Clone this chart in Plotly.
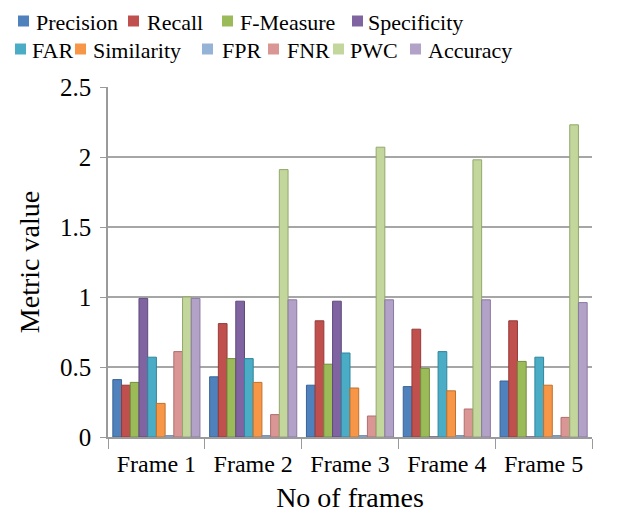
import plotly.graph_objects as go

frames = ["Frame 1", "Frame 2", "Frame 3", "Frame 4", "Frame 5"]

precision = [0.41, 0.43, 0.37, 0.36, 0.40]
recall = [0.37, 0.81, 0.83, 0.77, 0.83]
f_measure = [0.39, 0.56, 0.52, 0.49, 0.54]
specificity = [0.99, 0.97, 0.97, 0.0, 0.0]
far = [0.57, 0.56, 0.60, 0.61, 0.57]
similarity = [0.24, 0.39, 0.35, 0.33, 0.37]
fpr = [0.01, 0.01, 0.01, 0.01, 0.01]
fnr = [0.61, 0.16, 0.15, 0.20, 0.14]
pwc = [1.00, 1.91, 2.07, 1.98, 2.23]
accuracy = [0.99, 0.98, 0.98, 0.98, 0.96]

# name, values, fill, edge, key swatch left (px), key text left (px), key row centre (px)
series = [
    ("Precision", precision, "#4F81BD", "#3A6494", 18, 35, 21),
    ("Recall", recall, "#C0504D", "#953B39", 128, 146, 21),
    ("F-Measure", f_measure, "#9BBB59", "#728C3F", 222, 239, 21),
    ("Specificity", specificity, "#8064A2", "#5E4A7A", 352, 367, 21),
    ("FAR", far, "#4BACC6", "#31859C", 15, 31, 49),
    ("Similarity", similarity, "#F79646", "#C0712E", 75, 92, 49),
    ("FPR", fpr, "#95B3D7", "#6F8EB5", 202, 221, 49),
    ("FNR", fnr, "#D99694", "#B06E6C", 268, 286, 49),
    ("PWC", pwc, "#C3D69B", "#93A86B", 333, 349, 49),
    ("Accuracy", accuracy, "#B3A2C7", "#8A78A0", 410, 427, 49),
]

W, H = 618, 515
ML, MR, MT, MB = 108, 26, 87, 78
PW, PH = W - ML - MR, H - MT - MB
font_family = "Liberation Serif"


def px_x(px):
    return (px - ML) / PW


def px_y(py):
    return (H - MB - py) / PH


fig = go.Figure()
shapes, annotations = [], []
for name, vals, color, edge, sx, tx, ty in series:
    fig.add_trace(go.Bar(
        x=frames, y=vals, name=name,
        marker=dict(color=color, line=dict(color=edge, width=1)),
    ))
    # key: coloured swatch followed by the series name
    shapes.append(dict(
        type="rect", xref="paper", yref="paper",
        x0=px_x(sx), x1=px_x(sx + 11), y0=px_y(ty + 5.5), y1=px_y(ty - 5.5),
        fillcolor=color, line=dict(width=0),
    ))
    annotations.append(dict(
        text=name, xref="paper", yref="paper",
        x=px_x(tx), y=px_y(ty + 1), xanchor="left", yanchor="middle",
        showarrow=False, borderpad=0,
        font=dict(family=font_family, size=22, color="black"),
    ))

fig.update_layout(
    width=W, height=H,
    margin=dict(l=ML, r=MR, t=MT, b=MB, autoexpand=False),
    paper_bgcolor="white", plot_bgcolor="white",
    showlegend=False,
    barmode="group", bargap=0.1, bargroupgap=0.0,
    font=dict(family=font_family, size=23, color="black"),
    shapes=shapes,
    annotations=annotations,
    xaxis=dict(
        title=dict(text="No of frames", font=dict(family=font_family, size=28), standoff=12),
        showline=True, linecolor="#9a9a9a", linewidth=1.5,
        ticks="outside", tickson="boundaries", ticklen=10, tickcolor="#9a9a9a",
        ticklabelstandoff=4,
        tickfont=dict(family=font_family, size=24),
        showgrid=False,
    ),
    yaxis=dict(
        title=dict(text="Metric value", font=dict(family=font_family, size=28), standoff=12),
        range=[0, 2.5],
        tickvals=[0, 0.5, 1, 1.5, 2, 2.5],
        ticktext=["0", "0.5", "1", "1.5", "2", "2.5"],
        showline=True, linecolor="#9a9a9a", linewidth=1.5,
        ticks="outside", ticklen=6, tickcolor="#9a9a9a",
        ticklabelstandoff=4,
        showgrid=True, gridcolor="#a6a6a6", gridwidth=1.5,
        zeroline=False,
        tickfont=dict(family=font_family, size=25),
    ),
)

fig.write_html("out.html")
